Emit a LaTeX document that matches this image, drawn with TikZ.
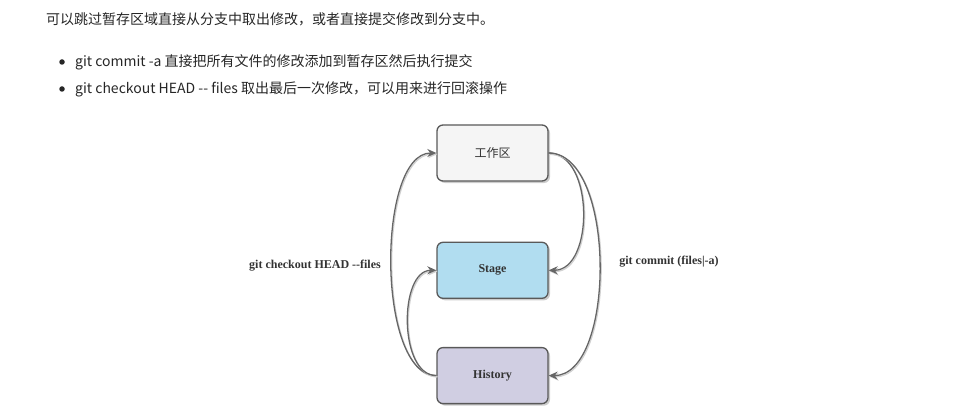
\documentclass[tikz,border=0pt]{standalone}
\usepackage{fontspec}
\setmainfont{Liberation Serif}
\newfontfamily\cjk{Noto Sans CJK SC}
\usetikzlibrary{arrows.meta,shadows,positioning}
\definecolor{wsfill}{HTML}{F5F5F5}
\definecolor{stfill}{HTML}{B1DDF0}
\definecolor{hsfill}{HTML}{D0CEE2}
\definecolor{edgec}{HTML}{666666}
\definecolor{txtc}{HTML}{333333}

\begin{document}
\begin{tikzpicture}[x=1pt, y=-1pt,
  box/.style={draw=black!65, line width=1.3pt, rounded corners=6pt, minimum width=111pt, minimum height=56pt, drop shadow={shadow xshift=2pt, shadow yshift=-2pt, fill=black!40, opacity=0.5}, text=txtc, font=\bfseries\fontsize{12}{14}\selectfont},
  lnk/.style={draw=edgec, line width=1.3pt, -{Stealth[length=9pt,width=8pt]}, preaction={draw=black!18, line width=1.3pt, transform canvas={shift={(1pt,-1.2pt)}}}},
  lbl/.style={text=txtc, font=\bfseries\fontsize{12}{14}\selectfont},
  txtline/.style={anchor=west, inner sep=0pt, text=black!85, font=\cjk\fontsize{14}{16}\selectfont},
  dot/.style={circle, fill=black!85, inner sep=0pt, minimum size=5.5pt}]
\useasboundingbox (0,0) rectangle (969,409);

% text above the picture
\node[txtline] (intro) at (46,19) {可以跳过暂存区域直接从分支中取出修改，或者直接提交修改到分支中。};
\node[dot] (b1) at (62,62) {};
\node[txtline] (t1) at (75,62) {git commit -a 直接把所有文件的修改添加到暂存区然后执行提交};
\node[dot] (b2) at (62,89) {};
\node[txtline] (t2) at (75,89) {git checkout HEAD -{}- files 取出最后一次修改，可以用来进行回滚操作};

% the three areas
\node[box, fill=wsfill] (ws) at (492.5,153) {\cjk\mdseries 工作区};
\node[box, fill=stfill, below=60pt of ws] (st) {Stage};
\node[box, fill=hsfill, below=48pt of st] (hs) {History};

% links
\draw[lnk] (hs.west) to[out=180,in=180,looseness=0.69] (ws.west);
\draw[lnk] (hs.west) to[out=180,in=180,looseness=0.92] (st.west);
\draw[lnk] (ws.east) to[out=0,in=0,looseness=1.0] (st.east);
\draw[lnk] (ws.east) to[out=0,in=0,looseness=0.78] (hs.east);

\node[lbl] (co) at (315,266) {git checkout HEAD -{}-files};
\node[lbl] (cm) at (669,262) {git commit (files|-a)};

\end{tikzpicture}
\end{document}
